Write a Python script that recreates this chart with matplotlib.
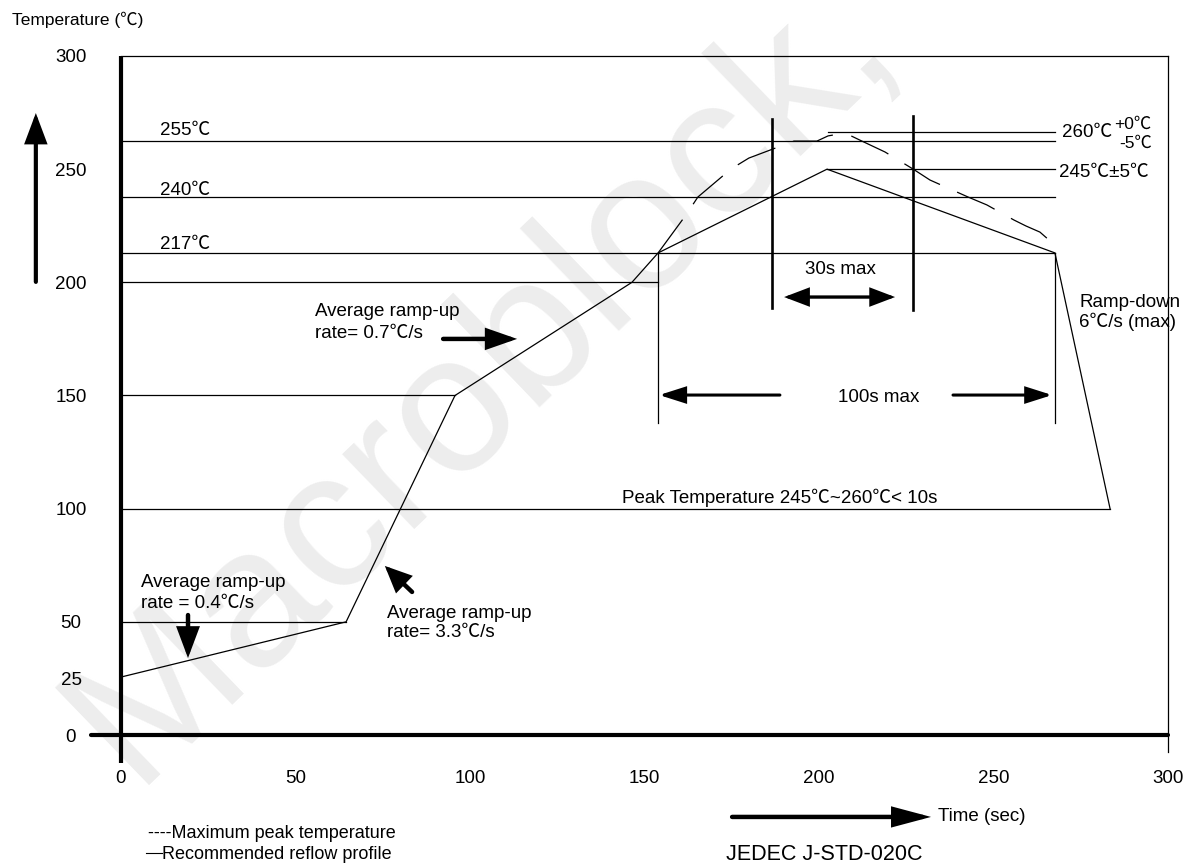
import matplotlib
matplotlib.use("Agg")
import matplotlib.pyplot as plt

plt.rcParams['font.family'] = ['Liberation Sans', 'Noto Sans CJK SC', 'DejaVu Sans']

# ---------------- data ----------------
# Recommended reflow profile (solid)
profile_time = [0, 64.5, 95.7, 146.4, 153.9, 202.3, 267.6, 283.4]
profile_temp = [25.6, 50, 150, 200, 213, 250, 213, 100]

# Maximum peak temperature profile (dashed)
maxpeak_time = [153.9, 161.9, 165.3, 174.8, 179.9, 192.8, 199.4, 202.6, 206.0,
                209.2, 212.3, 218.9, 226.9, 231.8, 242.7, 248.1, 255.9, 259.3, 263.3,
                265.9, 267.6]
maxpeak_temp = [213.0, 229.8, 237.7, 250.1, 254.9, 262.4, 262.4, 264.7, 265.6,
                264.7, 262.4, 257.6, 250.1, 245.2, 237.7, 234.2, 227.5, 224.9, 222.2,
                218.7, 213.0]

# reference levels: drawn level, x start, x end
level_y = [262.4, 237.7, 213.0, 266.4, 250.1, 200, 150, 100, 50]
level_x0 = [0, 0, 0, 202.6, 202.3, 0, 0, 0, 0]
level_x1 = [267.6, 267.6, 267.6, 267.6, 267.6, 153.9, 95.7, 283.4, 64.5]
left_level_labels = ["255℃", "240℃", "217℃"]

# time-window markers
window_100s = [153.9, 267.6]
window_30s = [186.5, 226.9]

x_ticks = [0, 50, 100, 150, 200, 250, 300]
x_tick_labels = ["0", "50", "100", "150", "200", "250", "300"]
y_ticks = [0, 25, 50, 100, 150, 200, 250, 300]
y_tick_labels = ["0", "25", "50", "100", "150", "200", "250", "300"]

# ---------------- figure ----------------
W, H = 1189, 868
fig = plt.figure(figsize=(W / 100, H / 100), dpi=100)
ax = fig.add_axes([121 / W, (868 - 735) / H, 1047 / W, 679 / H])
ax.set_xlim(0, 300)
ax.set_ylim(0, 300)
for s in ax.spines.values():
    s.set_visible(False)

FS = 13.5
ax.set_xticks(x_ticks)
ax.set_xticklabels(x_tick_labels, fontsize=FS)
ax.set_yticks(y_ticks)
ax.set_yticklabels(y_tick_labels, fontsize=FS)
ax.tick_params(axis='x', length=0, pad=25)
ax.tick_params(axis='y', length=0, pad=36)
for lab in ax.get_yticklabels():
    lab.set_horizontalalignment('center')

# watermark
ax.text(103, 157, "Macroblock,", fontsize=142, color='#ededed', rotation=44,
        ha='center', va='center', zorder=0, clip_on=False)

thin = 0.9
# frame: top and right thin lines, left and bottom thick axes
ax.plot([0, 300], [300, 300], color='k', lw=thin, clip_on=False)
ax.plot([300, 300], [-7.5, 300], color='k', lw=thin, clip_on=False)
ax.plot([0, 0], [-12.4, 300], color='k', lw=3.0, clip_on=False, solid_capstyle='butt')
ax.plot([-8.6, 300], [0, 0], color='k', lw=3.0, clip_on=False, solid_capstyle='round')

# level lines
for y, x0, x1 in zip(level_y, level_x0, level_x1):
    ax.plot([x0, x1], [y, y], color='k', lw=thin)

# profiles
ax.plot(profile_time, profile_temp, color='k', lw=thin)
ax.plot(maxpeak_time, maxpeak_temp, color='k', lw=thin,
        dashes=(33, 15), dash_capstyle='butt')

# 100 s window vertical lines
for x in window_100s:
    ax.plot([x, x], [137.9, 213.0], color='k', lw=thin)
# 30 s window vertical lines (thicker)
ax.plot([window_30s[0]] * 2, [188.7, 272.2], color='k', lw=1.9)
ax.plot([window_30s[1]] * 2, [187.8, 273.5], color='k', lw=1.9)


def arrow(tail, head, lw=2.8, hl=1.1, hw=0.42, ms=15, style='-|>'):
    ax.annotate('', xy=head, xytext=tail, annotation_clip=False,
                arrowprops=dict(arrowstyle=f'{style},head_length={hl},head_width={hw}',
                                lw=lw, color='k', mutation_scale=ms,
                                shrinkA=0, shrinkB=0, joinstyle='miter'))


# arrows
arrow((190.0, 193.5), (221.8, 193.5), style='<|-|>', lw=2.4, hl=1.0, hw=0.38, ms=14)
arrow((188.8, 150.2), (154.2, 150.2), lw=2.2, hl=1.1, hw=0.35, ms=14)
arrow((238.4, 150.2), (266.8, 150.2), lw=2.2, hl=1.1, hw=0.35, ms=14)
arrow((92.3, 175.0), (113.5, 175.0), lw=3.2, hl=1.2, hw=0.42, ms=14)
arrow((19.2, 53.0), (19.2, 34.0), lw=3.2, hl=1.2, hw=0.45, ms=14)
arrow((83.4, 63.2), (75.6, 74.7), lw=3.2, hl=1.0, hw=0.45, ms=14)
arrow((-24.4, 200.2), (-24.4, 274.8), lw=3.0, hl=1.2, hw=0.45, ms=14)
arrow((175.1, -36.2), (232.1, -36.2), lw=3.2, hl=1.5, hw=0.4, ms=14)


def txt(x, y, s, fs=FS, ha='left', **kw):
    ax.text(x, y, s, fontsize=fs, ha=ha, va='center', clip_on=False, **kw)


txt(-31.2, 315.9, "Temperature (℃)", fs=12.5)
for y, lab in zip([267.3, 240.4, 216.5], left_level_labels):
    txt(11.2, y, lab)
txt(269.6, 266.0, "260℃")
txt(284.5, 270.0, "+0℃", fs=12.5)
txt(286.0, 261.6, "-5℃", fs=12.5)
txt(268.8, 248.7, "245℃±5℃")
txt(274.5, 191.3, "Ramp-down")
txt(274.5, 182.5, "6℃/s (max)")
txt(55.6, 186.9, "Average ramp-up")
txt(55.6, 177.6, "rate= 0.7℃/s")
txt(5.7, 67.2, "Average ramp-up")
txt(5.7, 58.3, "rate = 0.4℃/s")
txt(76.2, 53.9, "Average ramp-up")
txt(76.2, 45.5, "rate= 3.3℃/s")
txt(206.0, 205.5, "30s max", ha='center')
txt(217.2, 148.9, "100s max", ha='center')
txt(143.6, 104.7, "Peak Temperature 245℃~260℃< 10s")
txt(234.1, -36.2, "Time (sec)")
txt(7.7, -43.7, "----Maximum peak temperature", fs=13)
ax.plot([7.2, 11.7], [-52.3, -52.3], color='k', lw=0.8, clip_on=False)
txt(11.7, -53.0, "Recommended reflow profile", fs=13)
txt(173.4, -53.0, "JEDEC J-STD-020C", fs=15.5)

fig.savefig("out.png", dpi=100)
